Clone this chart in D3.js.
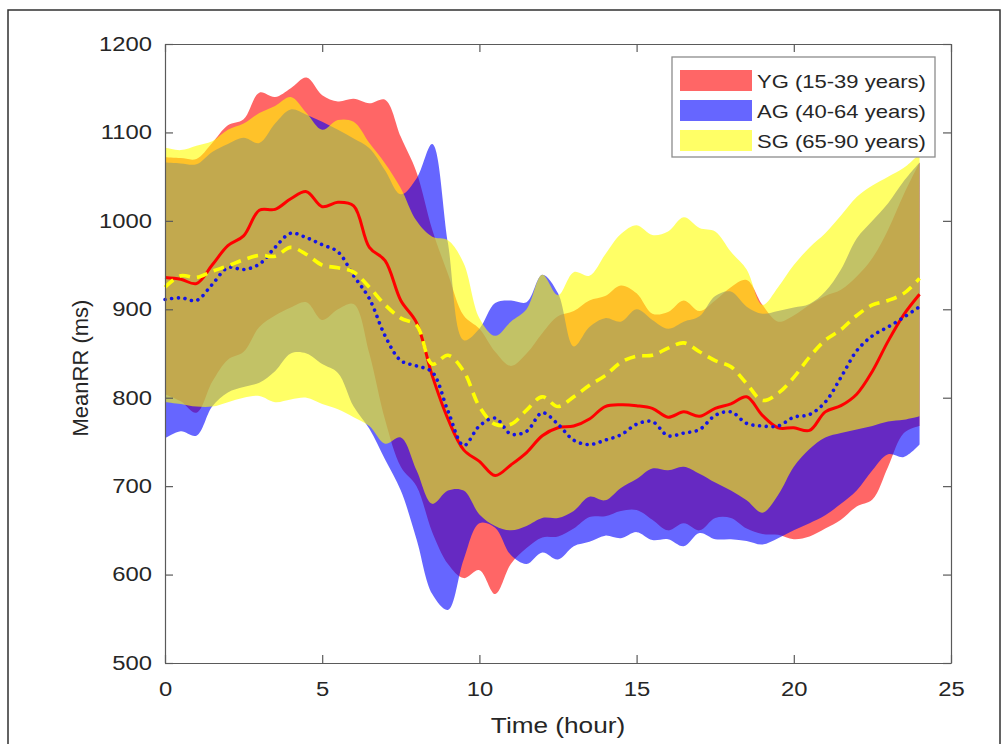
<!DOCTYPE html>
<html>
<head>
<meta charset="utf-8">
<script src="https://cdn.jsdelivr.net/npm/d3@7"></script>
<style>
  html, body { margin: 0; padding: 0; background: #ffffff; }
  svg { display: block; font-family: "Liberation Sans", Arial, sans-serif; }
</style>
</head>
<body>
<svg id="chart" width="1006" height="744"></svg>
<script>
// Time of day (hours) at which every series is sampled
const hours = [0,0.5,1,1.5,2,2.5,3,3.5,4,4.5,5,5.5,6,6.5,7,7.5,8,8.5,9,9.5,10,10.5,11,11.5,12,12.5,13,13.5,14,14.5,15,15.5,16,16.5,17,17.5,18,18.5,19,19.5,20,20.5,21,21.5,22,22.5,23,23.5,24];

// YG (15-39 years): mean RR and band limits (ms)
const ygMean  = [936,934,929,950,972,983,1012,1013,1025,1033, 1016,1021,1017,970,955,910,885,825,776,741, 728,712,724,738,757,766,768,776,790,792, 791,788,778,784,779,788,793,801,780,766, 766,763,784,791,804,830,864,894,917];
const ygUpper = [1072,1071,1070,1088,1108,1115,1145,1140,1150,1162, 1142,1135,1138,1133,1137,1095,1055,990,940,893, 878,852,836,850,873,892,898,910,915,927, 918,895,897,910,898,910,925,933,905,886, 893,905,915,922,937,958,990,1030,1066];
const ygLower = [804,796,783,818,843,852,880,893,902,908, 888,900,906,850,775,722,700,648,612,596, 605,578,612,630,642,643,652,665,666,672, 673,662,650,658,650,664,664,652,646,645, 640,643,652,662,677,685,722,760,768];

// AG (40-64 years)
const agMean  = [911,913,910,928,947,945,951,970,986,981, 973,965,938,912,870,842,836,829,785,746, 768,777,759,762,783,770,752,747,752,758, 770,773,757,760,764,780,784,771,768,768, 778,781,795,823,853,870,880,891,903];
const agUpper = [1066,1065,1064,1078,1087,1094,1088,1110,1126,1120, 1112,1103,1093,1082,1057,1030,1048,1087,975,865, 878,907,910,908,939,918,858,880,890,886, 900,888,878,886,892,915,920,903,895,898, 902,906,920,945,980,1000,1020,1045,1066];
const agLower = [754,762,757,790,806,812,817,830,850,850, 838,828,790,765,730,695,640,578,560,617, 658,653,622,612,625,617,632,637,644,641, 648,639,640,632,647,640,640,638,634,641, 650,658,667,680,695,718,736,733,747];

// SG (65-90 years)
const sgMean  = [925,938,936,943,949,956,961,960,970,962, 950,947,942,925,905,890,882,838,848,830, 790,770,770,786,801,790,801,814,825,840, 847,848,856,862,852,842,835,816,797,805, 823,846,865,877,893,905,910,918,935];
const sgUpper = [1083,1080,1085,1090,1103,1110,1122,1130,1140,1122, 1103,1114,1112,1088,1065,1037,1000,982,978,952, 890,870,886,900,939,916,942,938,962,985, 995,984,988,1004,992,988,965,945,905,925, 950,970,986,1006,1027,1040,1050,1060,1076];
const sgLower = [795,793,790,790,795,800,802,795,798,800, 793,787,778,768,748,755,718,680,695,695, 668,655,650,655,664,664,672,688,684,698, 708,720,718,722,714,704,695,684,670,690, 722,742,755,760,764,768,773,775,779];

const groupLabels = ["YG (15-39 years)", "AG (40-64 years)", "SG (65-90 years)"];
const xTicks = [0, 5, 10, 15, 20, 25];
const yTicks = [500, 600, 700, 800, 900, 1000, 1100, 1200];

// Layout
const plotLeft = 165, plotRight = 951, plotTop = 44, plotBottom = 663;
const textStretch = 1.19;   // horizontal text is drawn a little wide
const axisColor = "#5a5a5a", textColor = "#262626";

const x = d3.scaleLinear().domain([0, 25]).range([plotLeft, plotRight]);
const y = d3.scaleLinear().domain([500, 1200]).range([plotBottom, plotTop]);

const svg = d3.select("#chart");

// outer frame of the figure
svg.append("rect")
  .attr("x", 8).attr("y", 10).attr("width", 992).attr("height", 760)
  .attr("fill", "none").attr("stroke", "#303030").attr("stroke-width", 1.5);

const groups = [
  { label: groupLabels[0], mean: ygMean, upper: ygUpper, lower: ygLower,
    fill: "#ff0000", stroke: "#ff0000", width: 3, dash: null, cap: "butt" },
  { label: groupLabels[1], mean: agMean, upper: agUpper, lower: agLower,
    fill: "#0000ff", stroke: "#1414e6", width: 3.6, dash: "0.01 6.7", cap: "round" },
  { label: groupLabels[2], mean: sgMean, upper: sgUpper, lower: sgLower,
    fill: "#ffff00", stroke: "#ffff00", width: 3.6, dash: "11 7", cap: "butt" }
];

const curve = d3.curveCatmullRom.alpha(0.5);
const plot = svg.append("g");

// translucent bands, drawn in group order so overlaps mix
groups.forEach(g => {
  const band = d3.area()
    .x((d, i) => x(hours[i]))
    .y0((d, i) => y(g.lower[i]))
    .y1((d, i) => y(g.upper[i]))
    .curve(curve);
  plot.append("path")
    .datum(hours)
    .attr("d", band)
    .attr("fill", g.fill)
    .attr("fill-opacity", 0.6);
});

// mean curves
groups.forEach(g => {
  const line = d3.line()
    .x((d, i) => x(hours[i]))
    .y((d, i) => y(g.mean[i]))
    .curve(curve);
  plot.append("path")
    .datum(hours)
    .attr("d", line)
    .attr("fill", "none")
    .attr("stroke", g.stroke)
    .attr("stroke-width", g.width)
    .attr("stroke-linecap", g.cap)
    .attr("stroke-linejoin", "round")
    .attr("stroke-dasharray", g.dash);
});

// axes: ticks point inward on all four sides
function styleAxis(sel) {
  sel.attr("color", axisColor)
     .attr("font-family", "Liberation Sans, Arial, sans-serif")
     .attr("font-size", 20);
  sel.selectAll("path.domain").attr("stroke-width", 1.2);
  sel.selectAll(".tick line").attr("stroke-width", 1.2);
  sel.selectAll("text").attr("fill", textColor);
}

const bottomAxis = svg.append("g")
  .attr("transform", `translate(0,${plotBottom})`)
  .call(d3.axisBottom(x).tickValues(xTicks).tickFormat(d3.format("d"))
    .tickSizeInner(-8).tickSizeOuter(0).tickPadding(19))
  .call(styleAxis);
bottomAxis.selectAll("text").attr("transform", `scale(${textStretch},1)`);

const leftAxis = svg.append("g")
  .attr("transform", `translate(${plotLeft},0)`)
  .call(d3.axisLeft(y).tickValues(yTicks).tickFormat(d3.format("d"))
    .tickSizeInner(-8).tickSizeOuter(0).tickPadding(13))
  .call(styleAxis);
leftAxis.selectAll("text")
  .attr("x", -13 / textStretch)
  .attr("transform", `scale(${textStretch},1)`);

svg.append("g")
  .attr("transform", `translate(0,${plotTop})`)
  .call(d3.axisTop(x).tickValues(xTicks).tickSizeInner(-8).tickSizeOuter(0).tickFormat(""))
  .call(styleAxis);

svg.append("g")
  .attr("transform", `translate(${plotRight},0)`)
  .call(d3.axisRight(y).tickValues(yTicks).tickSizeInner(-8).tickSizeOuter(0).tickFormat(""))
  .call(styleAxis);

// axis titles
svg.append("text")
  .attr("transform", `translate(${(plotLeft + plotRight) / 2},733) scale(${textStretch},1)`)
  .attr("text-anchor", "middle")
  .attr("font-size", 22)
  .attr("fill", textColor)
  .text("Time (hour)");

svg.append("text")
  .attr("transform", "translate(88,368) rotate(-90)")
  .attr("text-anchor", "middle")
  .attr("font-size", 22)
  .attr("fill", textColor)
  .text("MeanRR (ms)");

// legend
const legend = svg.append("g");
legend.append("rect")
  .attr("x", 672).attr("y", 57).attr("width", 263).attr("height", 100)
  .attr("fill", "#ffffff").attr("stroke", "#8c8c8c").attr("stroke-width", 1.3);

groups.forEach((g, i) => {
  const rowY = 70 + i * 30;
  legend.append("rect")
    .attr("x", 680).attr("y", rowY).attr("width", 72).attr("height", 21)
    .attr("fill", g.fill).attr("fill-opacity", 0.6);
  legend.append("text")
    .attr("transform", `translate(757,${rowY + 17.5}) scale(${textStretch},1)`)
    .attr("font-size", 18.5)
    .attr("fill", textColor)
    .text(g.label);
});
</script>
</body>
</html>
